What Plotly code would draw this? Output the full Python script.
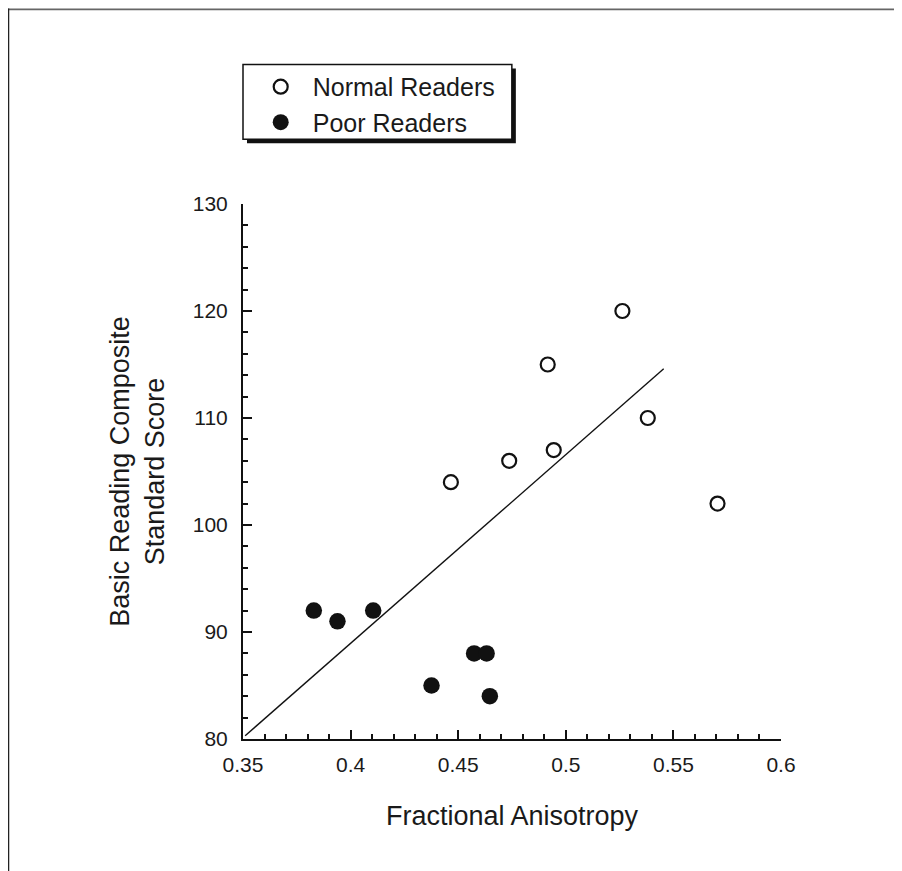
import plotly.graph_objects as go

# ---------------- data ----------------
normal_fa = [0.4466, 0.4737, 0.4916, 0.4944, 0.5263, 0.5381, 0.5705]
normal_score = [104, 106, 115, 107, 120, 110, 102]

poor_fa = [0.3829, 0.3939, 0.4105, 0.4376, 0.4574, 0.4632, 0.4647]
poor_score = [92, 91, 92, 85, 88, 88, 84]

fit_fa = [0.351, 0.5455]
fit_score = [80.3, 114.6]

x_tickvals = [0.35, 0.4, 0.45, 0.5, 0.55, 0.6]
x_ticktext = ["0.35", "0.4", "0.45", "0.5", "0.55", "0.6"]
y_tickvals = [80, 90, 100, 110, 120, 130]
y_ticktext = ["80", "90", "100", "110", "120", "130"]

series_names = ["Normal Readers", "Poor Readers"]
x_title = "Fractional Anisotropy"
y_title = "Basic Reading Composite<br>Standard Score"

# ---------------- layout geometry (page pixels; page body has 8px margin) ----------------
OFF = 8
W, H = 902 - OFF, 871 - OFF
PL, PR, PT, PB = 243.3 - OFF, 781.0 - OFF, 203.7 - OFF, 739.3 - OFF   # plot-area edges


def px2x(p):
    return (p - OFF - PL) / (PR - PL)


def px2y(p):
    return (PB - (p - OFF)) / (PB - PT)


FONT = "Liberation Sans, Arial, Helvetica, sans-serif"
TXT = "#1a1a1a"

fig = go.Figure()

fig.add_trace(go.Scatter(
    x=fit_fa, y=fit_score, mode="lines",
    line=dict(color="#111111", width=1.4),
    showlegend=False, hoverinfo="skip"))

fig.add_trace(go.Scatter(
    x=normal_fa, y=normal_score, mode="markers", name=series_names[0],
    marker=dict(symbol="circle", size=14, color="white",
                line=dict(color="#111111", width=2.2))))

fig.add_trace(go.Scatter(
    x=poor_fa, y=poor_score, mode="markers", name=series_names[1],
    marker=dict(symbol="circle", size=16.5, color="#111111",
                line=dict(color="#111111", width=0))))

axis_common = dict(
    showline=True, linecolor="#111111", linewidth=2,
    ticks="inside", ticklen=9, tickwidth=2, tickcolor="#111111",
    showgrid=False, zeroline=False,
    tickfont=dict(family=FONT, size=21, color=TXT),
)

fig.update_xaxes(
    range=[0.35, 0.6], tickvals=x_tickvals, ticktext=x_ticktext,
    minor=dict(dtick=0.01, tick0=0.35, ticks="inside", ticklen=5,
               tickwidth=2, tickcolor="#111111", showgrid=False),
    title=dict(text=x_title, font=dict(family=FONT, size=27, color=TXT),
               standoff=31),
    ticklabelstandoff=6,
    **axis_common)

fig.update_yaxes(
    range=[80, 130], tickvals=y_tickvals, ticktext=y_ticktext,
    minor=dict(dtick=2, tick0=80, ticks="inside", ticklen=5,
               tickwidth=2, tickcolor="#111111", showgrid=False),
    title=dict(text=y_title, font=dict(family=FONT, size=27, color=TXT),
               standoff=20),
    ticklabelstandoff=9,
    **axis_common)

# legend box with drop shadow (page pixel coordinates)
bx0, bx1, by0, by1 = 243.3, 512.0, 64.0, 139.0
shapes = [
    dict(type="rect", xref="paper", yref="paper",
         x0=px2x(bx0 + 4), x1=px2x(bx1 + 4), y0=px2y(by1 + 4), y1=px2y(by0 + 4),
         fillcolor="#111111", line=dict(width=0), layer="above"),
    dict(type="rect", xref="paper", yref="paper",
         x0=px2x(bx0), x1=px2x(bx1), y0=px2y(by1), y1=px2y(by0),
         fillcolor="white", line=dict(color="#111111", width=1.5), layer="above"),
    # page frame (top and left rules)
    dict(type="line", xref="paper", yref="paper",
         x0=px2x(8), x1=px2x(910), y0=px2y(8.8), y1=px2y(8.8),
         line=dict(color="#666666", width=1.8)),
    dict(type="line", xref="paper", yref="paper",
         x0=px2x(8.8), x1=px2x(8.8), y0=px2y(8), y1=px2y(880),
         line=dict(color="#222222", width=1.8)),
]

fig.update_layout(
    width=W, height=H,
    margin=dict(l=PL, r=W - PR, t=PT, b=H - PB, autoexpand=False),
    paper_bgcolor="white", plot_bgcolor="white",
    shapes=shapes,
    showlegend=True,
    legend=dict(
        x=px2x(249), y=px2y(104), xanchor="left", yanchor="middle",
        bgcolor="rgba(0,0,0,0)", borderwidth=0,
        font=dict(family=FONT, size=25, color=TXT),
        itemsizing="trace", itemwidth=54, tracegroupgap=0,
    ),
)

fig.write_html("out.html")
